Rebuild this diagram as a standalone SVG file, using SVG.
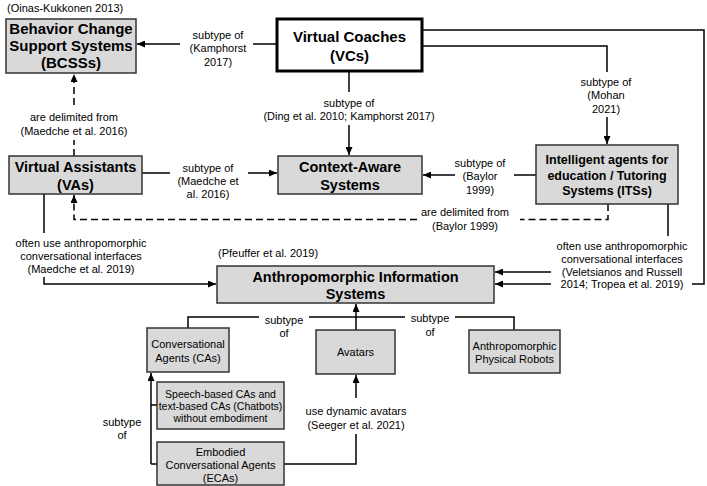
<svg xmlns="http://www.w3.org/2000/svg" width="707" height="486" viewBox="0 0 707 486">
<style>
.box{fill:#d9d9d9;stroke:#333;stroke-width:1.5}
.vc{fill:#fff;stroke:#000;stroke-width:3}
.b15{font-family:"Liberation Sans",Arial,sans-serif;font-weight:bold;font-size:15px;fill:#000;text-anchor:middle}
.b14{font-family:"Liberation Sans",Arial,sans-serif;font-weight:bold;font-size:14.5px;fill:#000;text-anchor:middle}
.b12{font-family:"Liberation Sans",Arial,sans-serif;font-weight:bold;font-size:12.5px;fill:#000;text-anchor:middle}
.t{font-family:"Liberation Sans",Arial,sans-serif;font-size:11px;fill:#000;text-anchor:middle}
.ts{font-family:"Liberation Sans",Arial,sans-serif;font-size:10.5px;fill:#000;text-anchor:middle}
.c{fill:none;stroke:#000;stroke-width:1.5}
.a{marker-end:url(#ah)}
.d{stroke-dasharray:7,4}
</style>
<defs>
<marker id="ah" markerWidth="8" markerHeight="7" refX="8" refY="3.5" orient="auto" markerUnits="userSpaceOnUse">
<path d="M0,0 L8,3.5 L0,7 Z" fill="#000"/>
</marker>
</defs>

<g id="connectors">
<!-- VC -> BCSS -->
<path class="c" d="M277,44 H253"/>
<path class="c a" d="M180,44 H137"/>
<!-- VC -> Context -->
<path class="c" d="M349,72 V92"/>
<path class="c a" d="M349,125 V155"/>
<!-- VC -> ITS -->
<path class="c" d="M422,46 H607 V72"/>
<path class="c a" d="M607,117 V144"/>
<!-- VC -> AIS -->
<path class="c" d="M422,30 H704 V284 H692"/>
<path class="c a" d="M551,284 H495"/>
<!-- ITS -> Context -->
<path class="c" d="M536,175 H514"/>
<path class="c a" d="M455,175 H423"/>
<!-- VA -> Context -->
<path class="c" d="M142,173 H170"/>
<path class="c a" d="M248,173 H277"/>
<!-- VA -> BCSS dashed -->
<path class="c d" d="M74,156 V140"/>
<path class="c d a" d="M74,105 V74"/>
<!-- ITS -> VA dashed -->
<path class="c d" d="M608,204 V219.5 H520"/>
<path class="c d a" d="M417,219.5 H74 V195"/>
<!-- VA -> AIS -->
<path class="c" d="M44,194 V233"/>
<path class="c a" d="M44,277 V284 H216"/>
<!-- ITS -> AIS -->
<path class="c" d="M668,204 V236"/>
<path class="c a" d="M551,272 H495"/>
<!-- CA / Avatars / Robots -> AIS -->
<path class="c" d="M188,328 V317 H259"/>
<path class="c" d="M309,317 H405"/>
<path class="c" d="M455,317 H514 V330"/>
<path class="c a" d="M356,330 V304"/>
<!-- Speech / ECA -> CA -->
<path class="c a" d="M151,464 V373"/>
<path class="c" d="M151,405 H157 M151,464 H157"/>
<!-- ECA -> Avatars -->
<path class="c" d="M284,464 H356 V434"/>
<path class="c a" d="M356,398 V375"/>
</g>

<g id="labels">
<text class="t"><tspan x="218" y="39">subtype of</tspan><tspan x="218" y="52">(Kamphorst</tspan><tspan x="218" y="66">2017)</tspan></text>
<text class="t"><tspan x="349" y="107">subtype of</tspan><tspan x="349" y="120">(Ding et al. 2010; Kamphorst 2017)</tspan></text>
<text class="t"><tspan x="606" y="86">subtype of</tspan><tspan x="606" y="99">(Mohan</tspan><tspan x="606" y="113">2021)</tspan></text>
<text class="t"><tspan x="480" y="167">subtype of</tspan><tspan x="480" y="180">(Baylor</tspan><tspan x="480" y="194">1999)</tspan></text>
<text class="t"><tspan x="208" y="172">subtype of</tspan><tspan x="208" y="185">(Maedche et</tspan><tspan x="208" y="198">al. 2016)</tspan></text>
<text class="t"><tspan x="74" y="121">are delimited from</tspan><tspan x="74" y="135">(Maedche et al. 2016)</tspan></text>
<text class="t"><tspan x="465" y="216">are delimited from</tspan><tspan x="465" y="230">(Baylor 1999)</tspan></text>
<text class="t"><tspan x="81" y="247">often use anthropomorphic</tspan><tspan x="81" y="260">conversational interfaces</tspan><tspan x="81" y="273">(Maedche et al. 2019)</tspan></text>
<text class="t"><tspan x="622" y="250">often use anthropomorphic</tspan><tspan x="622" y="263">conversational interfaces</tspan><tspan x="622" y="276">(Veletsianos and Russell</tspan><tspan x="622" y="288">2014; Tropea et al. 2019)</tspan></text>
<text class="t"><tspan x="284" y="324">subtype</tspan><tspan x="284" y="337">of</tspan></text>
<text class="t"><tspan x="430" y="322">subtype</tspan><tspan x="430" y="336">of</tspan></text>
<text class="t"><tspan x="122" y="426">subtype</tspan><tspan x="122" y="439">of</tspan></text>
<text class="t"><tspan x="356" y="415">use dynamic avatars</tspan><tspan x="356" y="429">(Seeger et al. 2021)</tspan></text>
<text class="t" style="text-anchor:start" x="7" y="12">(Oinas-Kukkonen 2013)</text>
<text class="t" style="text-anchor:start" x="218" y="257">(Pfeuffer et al. 2019)</text>
</g>

<g id="bcss">
<rect class="box" x="6" y="19" width="130" height="54"/>
<text class="b15"><tspan x="71" y="34">Behavior Change</tspan><tspan x="71" y="51">Support Systems</tspan><tspan x="71" y="68">(BCSSs)</tspan></text>
</g>
<g id="vc">
<rect class="vc" x="277" y="19" width="145" height="52"/>
<text class="b15"><tspan x="349.5" y="42">Virtual Coaches</tspan><tspan x="349.5" y="61">(VCs)</tspan></text>
</g>
<g id="va">
<rect class="box" x="9" y="156" width="133" height="38"/>
<text class="b14"><tspan x="75.5" y="172">Virtual Assistants</tspan><tspan x="75.5" y="190">(VAs)</tspan></text>
</g>
<g id="cas">
<rect class="box" x="278" y="156" width="144" height="38"/>
<text class="b14"><tspan x="350" y="172">Context-Aware</tspan><tspan x="350" y="190">Systems</tspan></text>
</g>
<g id="its">
<rect class="box" x="536" y="145" width="142" height="59"/>
<text class="b12"><tspan x="607" y="164">Intelligent agents for</tspan><tspan x="607" y="179.5">education / Tutoring</tspan><tspan x="607" y="195">Systems (ITSs)</tspan></text>
</g>
<g id="ais">
<rect class="box" x="217" y="266" width="277" height="37"/>
<text class="b14"><tspan x="355.5" y="282">Anthropomorphic Information</tspan><tspan x="355.5" y="299">Systems</tspan></text>
</g>
<g id="ca">
<rect class="box" x="147" y="328" width="82" height="44"/>
<text class="t"><tspan x="188" y="348">Conversational</tspan><tspan x="188" y="362">Agents (CAs)</tspan></text>
</g>
<g id="avatars">
<rect class="box" x="316" y="330" width="79" height="44"/>
<text class="t" x="355.5" y="356">Avatars</text>
</g>
<g id="robots">
<rect class="box" x="469" y="330" width="91" height="43"/>
<text class="t"><tspan x="514.5" y="350">Anthropomorphic</tspan><tspan x="514.5" y="363">Physical Robots</tspan></text>
</g>
<g id="speech">
<rect class="box" x="157" y="382" width="127" height="47"/>
<text class="ts"><tspan x="220.5" y="398">Speech-based CAs and</tspan><tspan x="220.5" y="410">text-based CAs (Chatbots)</tspan><tspan x="220.5" y="422">without embodiment</tspan></text>
</g>
<g id="eca">
<rect class="box" x="157" y="442" width="127" height="43"/>
<text class="t"><tspan x="220.5" y="455.5">Embodied</tspan><tspan x="220.5" y="468.5">Conversational Agents</tspan><tspan x="220.5" y="481.5">(ECAs)</tspan></text>
</g>
</svg>
